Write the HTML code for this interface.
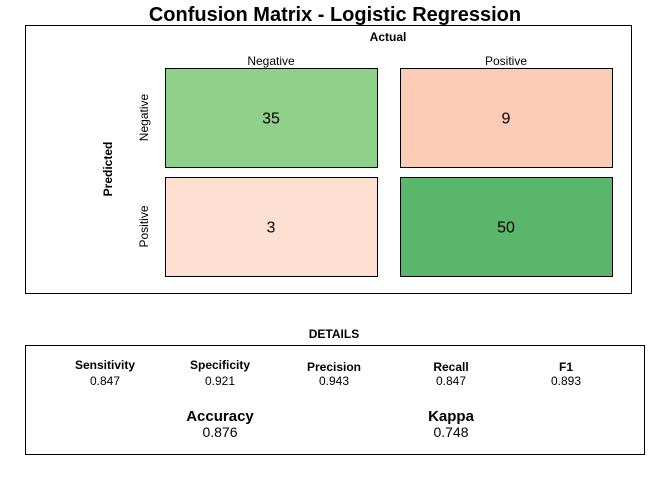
<!DOCTYPE html>
<html><head><meta charset="utf-8"><style>
body{margin:0;background:#fff}
svg{display:block;font-family:"Liberation Sans",Arial,sans-serif}
</style></head><body>
<svg id="c" width="672" height="480">
<text x="335" y="21" text-anchor="middle" font-size="20" font-weight="bold">Confusion Matrix - Logistic Regression</text>
<rect x="25.5" y="25.5" width="606" height="268" fill="none" stroke="#000"/>
<text x="388" y="41" text-anchor="middle" font-size="12" font-weight="bold">Actual</text>
<text transform="translate(112,169) rotate(-90)" text-anchor="middle" font-size="12" font-weight="bold">Predicted</text>
<g id="cells"></g>
<text x="334" y="338" text-anchor="middle" font-size="12" font-weight="bold">DETAILS</text>
<rect x="25.5" y="345.5" width="619" height="109" fill="none" stroke="#000"/>
<g id="details"></g>
</svg>
<script>
const classes=["Negative","Positive"];
const counts=[[35,9],[3,50]];
const colors=[["#8fd08b","#fbcbb6"],["#fde0d2","#5ab66a"]];
const metricNames=["Sensitivity","Specificity","Precision","Recall","F1"];
const metricValues=["0.847","0.921","0.943","0.847","0.893"];
const bigNames=["Accuracy","Kappa"];
const bigValues=["0.876","0.748"];
const NS="http://www.w3.org/2000/svg";
function mk(t,a,txt,p){const e=document.createElementNS(NS,t);for(const k in a)e.setAttribute(k,a[k]);if(txt!=null)e.textContent=txt;p.appendChild(e);return e;}
const g=document.getElementById('cells');
const colX=[165,400],rowY=[68,177],cw=212,ch=99;
classes.forEach((c,i)=>{
  const t=mk('text',{x:colX[i]+cw/2,y:65,'text-anchor':'middle','font-size':12},c,g);
  
  
  const r=mk('text',{transform:`translate(148,${rowY[i]+ch/2}) rotate(-90)`,'text-anchor':'middle','font-size':12},c,g);
  
  
});
counts.forEach((row,ri)=>row.forEach((v,ci)=>{
  const rc=mk('rect',{x:colX[ci]+.5,y:rowY[ri]+.5,width:cw,height:ch,fill:colors[ri][ci],stroke:'#000'},null,g);
  
  
  const t=mk('text',{x:colX[ci]+cw/2,y:rowY[ri]+ch/2+6,'text-anchor':'middle','font-size':16},v,g);
  
  
}));
const d=document.getElementById('details');
const mx=[105,220,334,451,566];
metricNames.forEach((n,i)=>{
  const y=i<2?369:371;
  const a=mk('text',{x:mx[i],y:y,'text-anchor':'middle','font-size':12,'font-weight':'bold'},n,d);
  
  
  const b=mk('text',{x:mx[i],y:385,'text-anchor':'middle','font-size':12},metricValues[i],d);
  
  
});
const bx=[220,451];
bigNames.forEach((n,i)=>{
  const a=mk('text',{x:bx[i],y:421,'text-anchor':'middle','font-size':15,'font-weight':'bold'},n,d);
  
  
  const b=mk('text',{x:bx[i],y:437,'text-anchor':'middle','font-size':14},bigValues[i],d);
  
  
});
</script>
</body></html>
